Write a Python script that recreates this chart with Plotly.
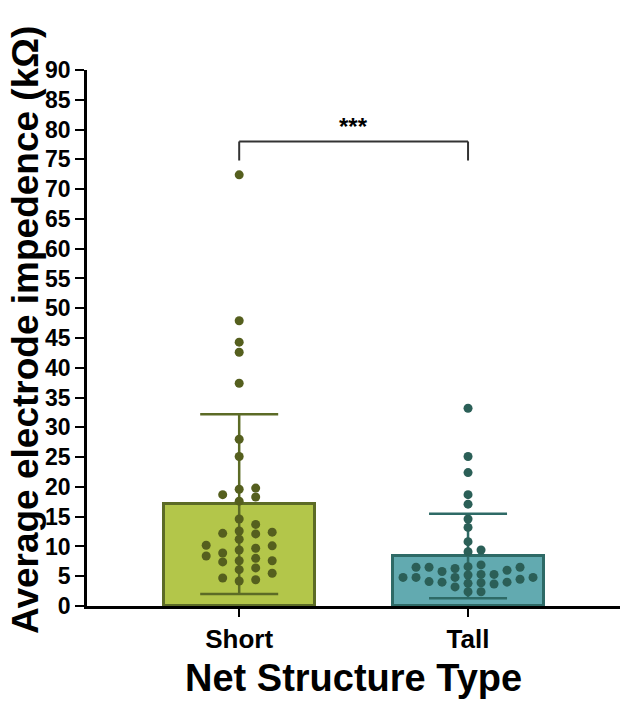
import plotly.graph_objects as go

# ---- data ----
categories = ["Short", "Tall"]
short_values = [72.4, 47.9, 44.3, 42.6, 37.4, 28.0, 25.1, 19.6, 19.8, 18.7, 18.3, 17.6,
                14.6, 13.7, 12.2, 12.1, 12.4, 12.6, 11.2, 10.1, 9.4, 9.7, 10.2, 8.9,
                8.4, 8.0, 7.4, 7.6, 7.6, 6.4, 6.1, 5.5, 4.7, 4.4, 4.2]
tall_values = [33.2, 25.1, 22.4, 18.7, 17.1, 14.6, 13.2, 10.8, 9.4, 9.1, 6.5, 6.5,
               6.3, 6.5, 6.9, 6.6, 5.8, 6.0, 5.3, 5.3, 5.2, 4.8, 4.8, 4.8, 4.8,
               4.0, 4.1, 4.0, 3.8, 3.9, 4.5, 3.7, 2.4, 3.2, 2.4]
means = [17.1, 8.4]
sds = [15.1, 7.1]
y_ticks = list(range(0, 95, 5))
sig_label = "***"
sig_level = 78.0

# ---- layout parameters ----
W, H = 623, 701
ML, MR, MT, MB = 87, 3, 70, 95
x_range = [-0.665, 1.664]
y_range = [0, 90]
plot_w = W - ML - MR
plot_h = H - MT - MB
px_per_x = plot_w / (x_range[1] - x_range[0])
px_per_y = plot_h / (y_range[1] - y_range[0])

fills = ["#b3c64a", "#62aab0"]
edges = ["#5c6b26", "#2e6a66"]
dots = ["#555f1e", "#2b5f57"]
swarm_spacing = [16.5, 13.0]
FONT = "Arial, Liberation Sans, sans-serif"


def beeswarm(values, center, spacing_px=15.0, diam_px=8.2):
    order = sorted(range(len(values)), key=lambda i: values[i])
    placed = []
    xs = [center] * len(values)
    for i in order:
        ypx = values[i] * px_per_y
        k = 0
        chosen = None
        while chosen is None:
            cands = [0] if k == 0 else [k, -k]
            for c in cands:
                xo = c * spacing_px
                if all(abs(xo - px) >= spacing_px * 0.5 or abs(ypx - py) >= diam_px
                       for px, py in placed):
                    chosen = xo
                    break
            k += 1
        placed.append((chosen, ypx))
        xs[i] = center + chosen / px_per_x
    return xs


fig = go.Figure()
xpos = [0, 1]
for j, cat in enumerate(categories):
    fig.add_trace(go.Bar(
        x=[xpos[j]], y=[means[j]], width=0.66,
        marker=dict(color=fills[j], line=dict(color=edges[j], width=3)),
        error_y=dict(type="data", array=[sds[j]], visible=True,
                     color=edges[j], thickness=2.5, width=39),
        showlegend=False, name=cat,
    ))

for j, vals in enumerate([short_values, tall_values]):
    fig.add_trace(go.Scatter(
        x=beeswarm(vals, xpos[j], spacing_px=swarm_spacing[j]), y=vals, mode="markers",
        marker=dict(color=dots[j], size=9, line=dict(width=0)),
        showlegend=False, name=categories[j],
    ))

# significance bracket
drop = 3.2
line_style = dict(color="#333333", width=2)
fig.add_shape(type="line", x0=xpos[0], x1=xpos[0], y0=sig_level - drop, y1=sig_level, line=line_style)
fig.add_shape(type="line", x0=xpos[0], x1=xpos[1], y0=sig_level, y1=sig_level, line=line_style)
fig.add_shape(type="line", x0=xpos[1], x1=xpos[1], y0=sig_level - drop, y1=sig_level, line=line_style)
fig.add_annotation(x=(xpos[0] + xpos[1]) / 2, y=sig_level, text="<b>" + sig_label + "</b>",
                   showarrow=False, yanchor="bottom", yshift=-1,
                   font=dict(family=FONT, size=24, color="black"))

# axis titles
fig.add_annotation(xref="paper", yref="paper", x=0, y=0.515, xshift=-61,
                   text="<b>Average electrode impedence (kΩ)</b>", textangle=-90,
                   showarrow=False, xanchor="center", yanchor="middle",
                   font=dict(family=FONT, size=37, color="black"))
fig.add_annotation(xref="paper", yref="paper", x=0.5, y=0, yshift=-72,
                   text="<b>Net Structure Type</b>",
                   showarrow=False, xanchor="center", yanchor="middle",
                   font=dict(family=FONT, size=38, color="black"))

fig.update_layout(
    width=W, height=H,
    margin=dict(l=ML, r=MR, t=MT, b=MB, pad=0),
    paper_bgcolor="white", plot_bgcolor="white",
    bargap=0,
    xaxis=dict(range=x_range, tickvals=xpos,
               ticktext=["<b>%s</b>" % c for c in categories],
               showline=True, linecolor="black", linewidth=2.5,
               ticks="outside", ticklen=8, tickwidth=2, tickcolor="black",
               tickfont=dict(family=FONT, size=26, color="black"),
               showgrid=False, zeroline=False, fixedrange=True, automargin=False),
    yaxis=dict(range=y_range, tickvals=y_ticks,
               ticktext=["<b>%d</b>" % t for t in y_ticks],
               showline=True, linecolor="black", linewidth=2.5,
               ticks="outside", ticklen=9, tickwidth=2, tickcolor="black",
               tickfont=dict(family=FONT, size=23, color="black"),
               showgrid=False, zeroline=False, fixedrange=True, automargin=False),
)

fig.write_html("out.html", config={"displayModeBar": False},
               post_script="document.body.style.margin='0';document.body.style.overflow='hidden';")
